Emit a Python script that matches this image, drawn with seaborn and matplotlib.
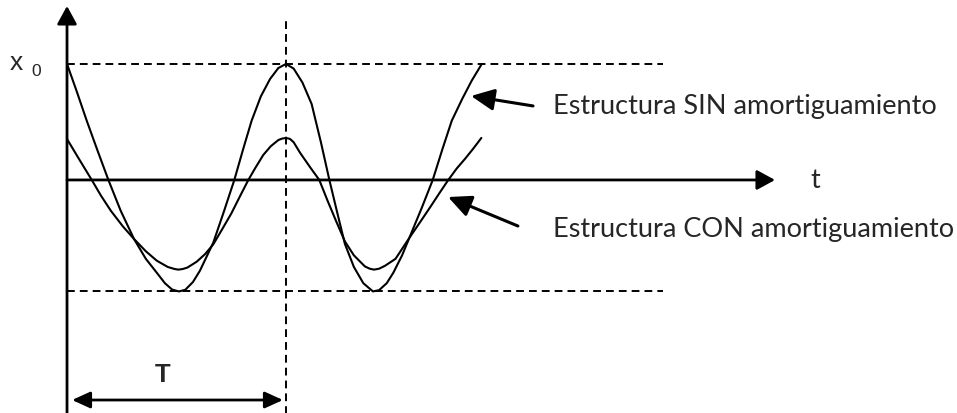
import matplotlib
matplotlib.use("Agg")
import matplotlib.pyplot as plt
import seaborn as sns

# time in periods (T = 1), displacement in units of x0
t_sin = [0.000, 0.045, 0.090, 0.140, 0.189, 0.245, 0.306, 0.360, 0.410, 0.447, 0.480, 0.511,
         0.540, 0.575, 0.607, 0.668, 0.715, 0.764, 0.805, 0.843, 0.885, 0.927, 0.965, 1.000,
         1.035, 1.075, 1.117, 1.160, 1.198, 1.235, 1.269, 1.310, 1.353, 1.397, 1.425, 1.460,
         1.490, 1.530, 1.563, 1.620, 1.670, 1.715, 1.757, 1.805, 1.848, 1.894]
x_sin = [1.000, 0.760, 0.511, 0.250, 0.000, -0.265, -0.509, -0.680, -0.800, -0.890, -0.945, -0.961,
         -0.947, -0.880, -0.782, -0.540, -0.280, 0.000, 0.270, 0.511, 0.720, 0.870, 0.965, 1.000,
         0.960, 0.840, 0.655, 0.320, 0.000, -0.290, -0.552, -0.750, -0.890, -0.961, -0.950, -0.890,
         -0.800, -0.650, -0.500, -0.240, 0.000, 0.270, 0.511, 0.700, 0.856, 1.000]

t_con = [0.000, 0.055, 0.113, 0.155, 0.200, 0.255, 0.306, 0.360, 0.410, 0.460, 0.490, 0.508,
         0.528, 0.550, 0.592, 0.630, 0.668, 0.710, 0.750, 0.790, 0.828, 0.860, 0.896, 0.930,
         0.965, 0.983, 1.000, 1.018, 1.035, 1.064, 1.110, 1.152, 1.190, 1.230, 1.269, 1.310,
         1.360, 1.382, 1.402, 1.425, 1.452, 1.500, 1.563, 1.610, 1.660, 1.700, 1.741, 1.780,
         1.817, 1.855, 1.892]
x_con = [0.353, 0.180, 0.000, -0.135, -0.265, -0.400, -0.509, -0.615, -0.696, -0.750, -0.767, -0.773,
         -0.768, -0.755, -0.705, -0.640, -0.555, -0.420, -0.290, -0.140, 0.000, 0.104, 0.215, 0.290,
         0.344, 0.357, 0.362, 0.354, 0.325, 0.235, 0.110, 0.000, -0.180, -0.360, -0.530, -0.650,
         -0.745, -0.765, -0.773, -0.765, -0.740, -0.680, -0.500, -0.370, -0.230, -0.115, 0.000, 0.100,
         0.181, 0.270, 0.362]

amp_top = 1.0
amp_bottom = -0.961
periodo = 1.0

sns.set_theme(style="white")

fig = plt.figure(figsize=(9.57, 4.14), dpi=100)
ax = fig.add_axes([0, 0, 1, 1])
ax.set_xlim(-0.306, 4.064)
ax.set_ylim(-2.009, 1.560)
ax.axis("off")

# curves
sns.lineplot(x=t_sin, y=x_sin, color="black", linewidth=1.5, ax=ax)
sns.lineplot(x=t_con, y=x_con, color="black", linewidth=1.5, ax=ax)

# dashed guides
dash = (0, (4, 2.6))
ax.hlines([amp_top, amp_bottom], 0, 2.721, colors="black", linewidth=1.4, linestyles=[dash])
ax.vlines(periodo, -2.1, 1.405, colors="black", linewidth=1.4, linestyles=[dash])

# axes with arrows
ax_arrow = dict(arrowstyle="-|>,head_length=0.55,head_width=0.3", color="black",
                linewidth=2, mutation_scale=20, shrinkA=0, shrinkB=0)
ax.annotate("", xy=(0, 1.5), xytext=(0, -2.1), arrowprops=ax_arrow)
ax.annotate("", xy=(3.233, 0), xytext=(0, 0), arrowprops=ax_arrow)

ax.text(3.393, -0.060, "t", fontsize=19.5, family=["Lato"], ha="left", va="baseline")
ax.text(-0.262, 0.957, "x", fontsize=19, family=["Liberation Sans"], ha="left", va="baseline")
ax.text(-0.164, 0.905, "0", fontsize=12.5, family=["Liberation Sans"], ha="left", va="baseline")

# period marker
ax.annotate("", xy=(0.023, -1.897), xytext=(0.986, -1.897),
            arrowprops=dict(arrowstyle="<|-|>,head_length=0.55,head_width=0.25", color="black",
                            linewidth=2, mutation_scale=20, shrinkA=0, shrinkB=0))
ax.text(0.438, -1.733, "T", fontsize=18.5, fontweight="bold", family=["Liberation Sans"],
        ha="center", va="baseline")

# labels with pointers
lab_arrow = dict(arrowstyle="-|>,head_length=0.7,head_width=0.33", color="black",
                 linewidth=2.2, mutation_scale=20, shrinkA=0, shrinkB=0)
ax.annotate("", xy=(1.845, 0.724), xytext=(2.128, 0.638), arrowprops=lab_arrow)
ax.annotate("", xy=(1.740, -0.147), xytext=(2.059, -0.397), arrowprops=lab_arrow)
ax.text(2.219, 0.578, "Estructura SIN amortiguamiento", fontsize=19.5, family=["Lato"],
        ha="left", va="baseline")
ax.text(2.219, -0.483, "Estructura CON amortiguamiento", fontsize=19.5, family=["Lato"],
        ha="left", va="baseline")

fig.savefig("out.png", dpi=100)
